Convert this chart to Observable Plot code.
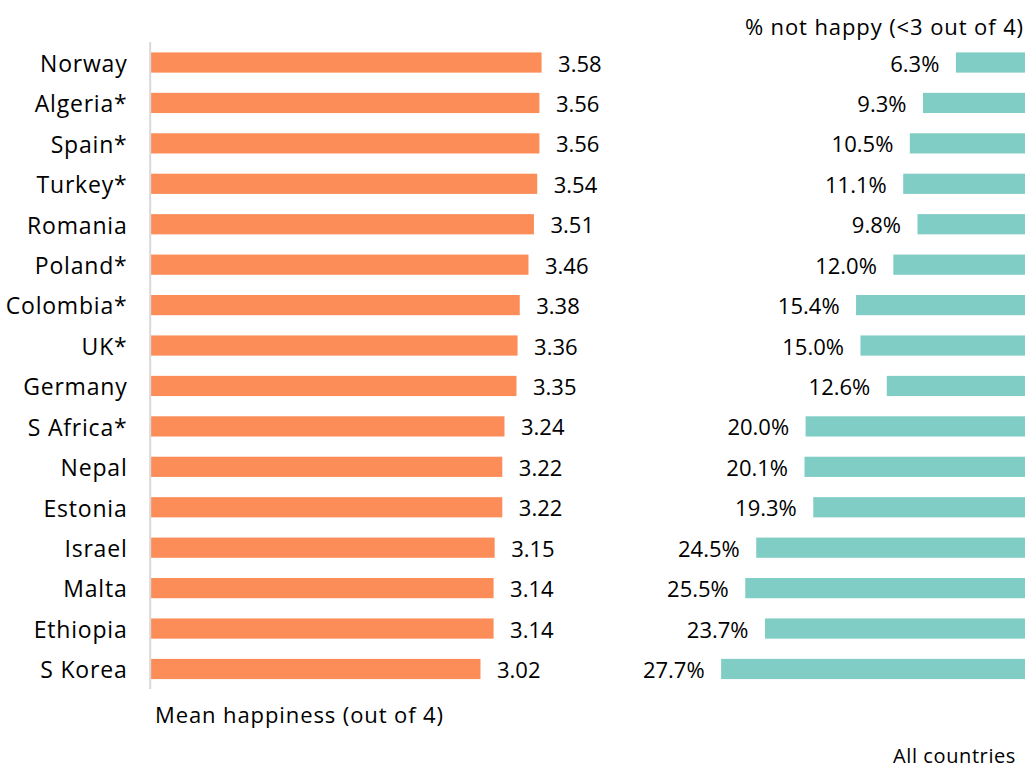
<!DOCTYPE html>
<html><head><meta charset="utf-8">
<script src="https://cdn.jsdelivr.net/npm/d3@7"></script>
<script src="https://cdn.jsdelivr.net/npm/@observablehq/plot@0.6"></script>
<style>
body{margin:0;background:#fff;font-family:"Open Sans",sans-serif;}
#wrap{position:relative;width:1027px;height:767px;overflow:hidden;}
#wrap svg{position:absolute;left:0;top:0;}
#wrap svg g[aria-label="y-axis tick label"] text{letter-spacing:0.8px;}
.t{position:absolute;font-size:22px;line-height:22px;color:#000;white-space:nowrap;font-family:"Open Sans",sans-serif;letter-spacing:0.9px;}
</style></head><body><div id="wrap"></div>
<script>
const countries = ["Norway","Algeria*","Spain*","Turkey*","Romania","Poland*","Colombia*","UK*","Germany","S Africa*","Nepal","Estonia","Israel","Malta","Ethiopia","S Korea"];
const meanHappiness = [3.58,3.56,3.56,3.54,3.51,3.46,3.38,3.36,3.35,3.24,3.22,3.22,3.15,3.14,3.14,3.02];
const pctNotHappy = [6.3,9.3,10.5,11.1,9.8,12.0,15.4,15.0,12.6,20.0,20.1,19.3,24.5,25.5,23.7,27.7];
const leftTitle = "Mean happiness (out of 4)";
const rightTitle = "% not happy (<3 out of 4)";
const footNote = "All countries";

const rows = countries.map((c, i) => ({country: c, mean: meanHappiness[i], pct: pctNotHappy[i]}));
const W = 1027, H = 767;
const yOpts = {domain: countries, range: [32.2, 699.3], padding: 0.5, round: false, axis: null};
const style = {fontFamily: "'Open Sans', sans-serif", fontSize: "22px", color: "#000", background: "transparent"};

const left = Plot.plot({
  width: W, height: H, marginLeft: 150, marginTop: 42, marginBottom: 78, marginRight: 0,
  style,
  x: {domain: [0, 4], range: [151, 587.4], axis: null},
  y: yOpts,
  marks: [
    Plot.barX(rows, {x: "mean", y: "country", fill: "#fc8d59"}),
    Plot.text(rows, {x: "mean", y: "country", text: d => d.mean.toFixed(2), textAnchor: "start", dx: 16, dy: 1.5, fontSize: 22, fill: "#000"}),
    Plot.ruleX([0], {dx: -1.3, stroke: "#d9d9d9", strokeWidth: 2}),
    Plot.axisY({tickSize: 0, tickPadding: 23, fontSize: 23, dy: 1.5, label: null, fill: "#000"})
  ]
});

const right = Plot.plot({
  width: W, height: H, marginLeft: 0, marginTop: 42, marginBottom: 78, marginRight: 0,
  style,
  x: {domain: [0, 30], range: [1025, 695.9], axis: null},
  y: yOpts,
  marks: [
    Plot.barX(rows, {x: "pct", y: "country", fill: "#7fcdc4"}),
    Plot.text(rows, {x: "pct", y: "country", text: d => d.pct.toFixed(1) + "%", textAnchor: "end", dx: -17, dy: 1.5, fontSize: 22, fill: "#000"})
  ]
});

const wrap = document.getElementById("wrap");
wrap.appendChild(left);
wrap.appendChild(right);

function addText(txt, css) {
  const d = document.createElement("div");
  d.className = "t";
  d.textContent = txt;
  Object.assign(d.style, css);
  wrap.appendChild(d);
}
addText(rightTitle, {right: "3px", top: "15px"});
addText(leftTitle, {left: "155px", top: "703px"});
addText(footNote, {right: "11px", top: "745.5px", fontSize: "20px", lineHeight: "20px", letterSpacing: "0.6px"});
</script>
</body></html>
